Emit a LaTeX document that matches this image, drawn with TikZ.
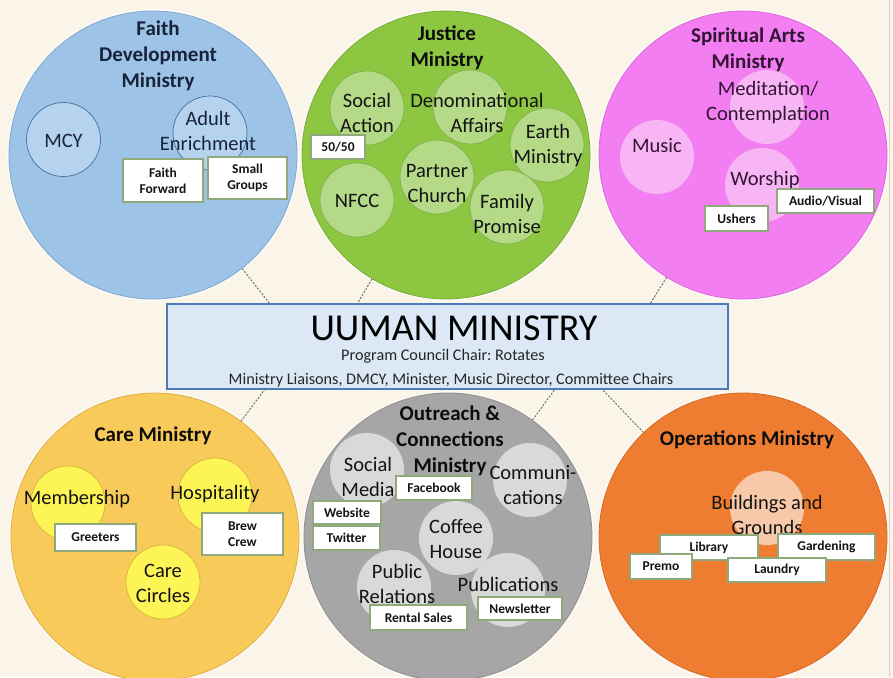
\documentclass[tikz,border=0pt]{standalone}
\usepackage{fontspec}
\setmainfont{Carlito}
\frenchspacing
\definecolor{bg}{HTML}{FBF5E9}
\definecolor{blueB}{HTML}{9DC3E6}
\definecolor{blueBd}{HTML}{7FA7D0}
\definecolor{blueS}{HTML}{B5D2EE}
\definecolor{blueSd}{HTML}{44709C}
\definecolor{greenB}{HTML}{8DC641}
\definecolor{greenBd}{HTML}{78AE38}
\definecolor{greenS}{HTML}{B4D987}
\definecolor{greenSd}{HTML}{7FB24C}
\definecolor{pinkB}{HTML}{F27EF1}
\definecolor{pinkBd}{HTML}{D96AD8}
\definecolor{pinkS}{HTML}{F7B5F6}
\definecolor{careB}{HTML}{F8CA59}
\definecolor{careBd}{HTML}{DDAF45}
\definecolor{careS}{HTML}{FDF455}
\definecolor{careSd}{HTML}{D6B43A}
\definecolor{grayB}{HTML}{A6A6A6}
\definecolor{grayBd}{HTML}{8E8E8E}
\definecolor{grayS}{HTML}{D9D9D9}
\definecolor{orangeB}{HTML}{EE7D31}
\definecolor{orangeBd}{HTML}{D56A24}
\definecolor{orangeS}{HTML}{F8C9A9}
\definecolor{tagborder}{HTML}{8FA87C}
\definecolor{boxfill}{HTML}{DCE8F5}
\definecolor{boxborder}{HTML}{4A7DB5}
\definecolor{connc}{HTML}{707070}
\definecolor{navy}{HTML}{16233A}
\definecolor{darkp}{HTML}{321532}
\definecolor{edgeline}{HTML}{D8D4CC}
\begin{document}
\begin{tikzpicture}[x=1pt,y=-1pt,
  big/.style={circle,inner sep=0pt,minimum size=288pt,line width=0.8pt},
  halo/.style={circle,inner sep=0pt,minimum size=292pt,fill=white,opacity=0.55},
  sub/.style={circle,inner sep=0pt,minimum size=74pt,line width=0.7pt},
  ttl/.style={font=\fontsize{21}{26}\selectfont\bfseries,align=center,inner sep=0pt,text=black!95},
  lbl/.style={font=\fontsize{20.5}{25}\selectfont,align=center,inner sep=0pt,text=black!92},
  tag/.style={draw=tagborder,fill=white,line width=1.2pt,font=\fontsize{13.5}{16}\selectfont\bfseries,align=center,inner sep=0pt,text=black!92},
  conn/.style={draw=connc,dash pattern=on 2pt off 1.5pt,line width=1pt}]
\fill[bg] (0,0) rectangle (893,677);
\useasboundingbox (0,0) rectangle (893,677);
\draw[edgeline,line width=1pt] (889,0) -- (889,677);

% ---------- halos behind the big circles
\node[halo] (h1) at (153,155) {};
\node[halo] (h2) at (446,155) {};
\node[halo] (h3) at (743,155) {};
\node[halo] (h4) at (155,537) {};
\node[halo] (h5) at (448,537) {};
\node[halo] (h6) at (743,537) {};

% ---------- big circles
\node[big,fill=blueB,draw=blueBd] (fd) at (153,155) {};
\node[big,fill=greenB,draw=greenBd] (ju) at (446,155) {};
\node[big,fill=pinkB,draw=pinkBd] (sa) at (743,155) {};
\node[big,fill=careB,draw=careBd] (ca) at (155,537) {};
\node[big,fill=grayB,draw=grayBd] (oc) at (448,537) {};
\node[big,fill=orangeB,draw=orangeBd] (op) at (743,537) {};

% ---------- center box
\node[draw=boxborder,fill=boxfill,line width=1.6pt,minimum width=561pt,minimum height=85pt,inner sep=0pt] (box) at (447.5,346.5) {};
\node[inner sep=0pt,font=\fontsize{38}{40}\selectfont,text=black] (boxt) at (454,328) {UUMAN MINISTRY};
\node[inner sep=0pt,font=\fontsize{16.2}{18}\selectfont,text=black!85] (boxp) at (443,356) {Program Council Chair: Rotates};
\node[inner sep=0pt,font=\fontsize{16.2}{18}\selectfont,text=black!85] (boxm) at (451,380) {Ministry Liaisons, DMCY, Minister, Music Director, Committee Chairs};

% ---------- connectors
\coordinate (p1) at (270,304);
\coordinate (p2) at (357,304);
\coordinate (p3) at (650,304);
\coordinate (p4) at (265,389);
\coordinate (p5) at (555,389);
\coordinate (p6) at (602,389);
\draw[conn] (fd) -- (p1);
\draw[conn] (ju) -- (p2);
\draw[conn] (sa) -- (p3);
\draw[conn] (ca) -- (p4);
\draw[conn] (oc) -- (p5);
\draw[conn] (op) -- (p6);

% ---------- Faith Development
\node[sub,fill=blueS,draw=blueSd] (mcy) at (63.5,139.5) {};
\node[sub,fill=blueS,draw=blueSd] (ae) at (210,133) {};
\node[ttl,text=navy] (fdt) at (158,56) {Faith\\Development\\Ministry};
\node[lbl,text=navy] (mcyt) at (63.5,141) {MCY};
\node[lbl,text=navy] (aet) at (208,131) {Adult\\Enrichment};
\node[tag,minimum width=80pt,minimum height=43pt] (ff) at (163,180.5) {Faith\\Forward};
\node[tag,minimum width=79pt,minimum height=42pt] (sg) at (247.5,178) {Small\\Groups};

% ---------- Justice
\node[sub,fill=greenS,draw=greenSd] (soc) at (367,108) {};
\node[sub,fill=greenS,draw=greenSd] (den) at (470,107) {};
\node[sub,fill=greenS,draw=greenSd] (ear) at (547,145) {};
\node[sub,fill=greenS,draw=greenSd] (par) at (437,177) {};
\node[sub,fill=greenS,draw=greenSd] (nfc) at (357,200) {};
\node[sub,fill=greenS,draw=greenSd] (fam) at (507,207) {};
\node[ttl] (jut) at (447,48) {Justice\\Ministry};
\node[lbl] (soct) at (367,113) {Social\\Action};
\node[lbl] (dent) at (477,113) {Denominational\\Affairs};
\node[lbl] (eart) at (548,146) {Earth\\Ministry};
\node[lbl] (part) at (437,183) {Partner\\Church};
\node[lbl] (nfct) at (357,201) {NFCC};
\node[lbl] (famt) at (507,214) {Family\\Promise};
\node[tag,minimum width=54pt,minimum height=24pt] (ff50) at (338,147) {50/50};

% ---------- Spiritual Arts
\node[sub,fill=pinkS] (med) at (767,107) {};
\node[sub,fill=pinkS] (mus) at (657,157) {};
\node[sub,fill=pinkS] (wor) at (762,185) {};
\node[ttl,text=darkp] (sat) at (748,50) {Spiritual Arts\\Ministry};
\node[lbl,text=darkp] (medt) at (768,103) {Meditation/\\Contemplation};
\node[lbl,text=darkp] (must) at (657,146) {Music};
\node[lbl,text=darkp] (wort) at (765,180) {Worship};
\node[tag,minimum width=97pt,minimum height=24pt] (av) at (825.5,201) {Audio/Visual};
\node[tag,minimum width=63pt,minimum height=25pt] (ush) at (736.5,218.5) {Ushers};

% ---------- Care
\node[sub,fill=careS,draw=careSd] (mem) at (68,503) {};
\node[sub,fill=careS,draw=careSd] (hos) at (215,495) {};
\node[sub,fill=careS,draw=careSd] (cc) at (163,582) {};
\node[ttl] (cat) at (153,436) {Care Ministry};
\node[lbl] (memt) at (77,499) {Membership};
\node[lbl] (host) at (215,494) {Hospitality};
\node[lbl] (cct) at (163,583) {Care\\Circles};
\node[tag,minimum width=81pt,minimum height=27pt] (gre) at (95.5,537.5) {Greeters};
\node[tag,minimum width=81pt,minimum height=42pt] (bc) at (242.5,534) {Brew\\Crew};

% ---------- Outreach & Connections
\node[sub,fill=grayS] (sm) at (367,470) {};
\node[sub,fill=grayS] (com) at (530,480) {};
\node[sub,fill=grayS] (ch) at (456,538) {};
\node[sub,fill=grayS] (pr) at (394,587) {};
\node[sub,fill=grayS] (pub) at (508,590) {};
\node[ttl] (oct) at (450,441) {Outreach \&\\Connections\\Ministry};
\node[lbl] (smt) at (368,477) {Social\\Media};
\node[lbl] (comt) at (533,485) {Communi-\\cations};
\node[lbl] (cht) at (456,539) {Coffee\\House};
\node[lbl] (prt) at (397,584) {Public\\Relations};
\node[lbl] (pubt) at (508,584) {Publications};
\node[tag,minimum width=76pt,minimum height=24pt] (fb) at (434,488) {Facebook};
\node[tag,minimum width=68pt,minimum height=23pt] (web) at (347,512.5) {Website};
\node[tag,minimum width=67pt,minimum height=24pt] (tw) at (346.5,538) {Twitter};
\node[tag,minimum width=97pt,minimum height=25pt] (rs) at (418.5,617.5) {Rental Sales};
\node[tag,minimum width=84pt,minimum height=23pt] (nl) at (520,608.5) {Newsletter};

% ---------- Operations
\node[sub,fill=orangeS] (bg) at (767,508) {};
\node[ttl] (opt) at (747,440) {Operations Ministry};
\node[lbl] (bgt) at (767,515) {Buildings and\\Grounds};
\node[tag,minimum width=98pt,minimum height=25pt] (lib) at (709,547.5) {Library};
\node[tag,minimum width=97pt,minimum height=26pt] (gar) at (826.5,547) {Gardening};
\node[tag,minimum width=62pt,minimum height=25pt] (pre) at (661,566.5) {Premo};
\node[tag,minimum width=98pt,minimum height=24pt] (lau) at (777,570) {Laundry};
\end{tikzpicture}
\end{document}
